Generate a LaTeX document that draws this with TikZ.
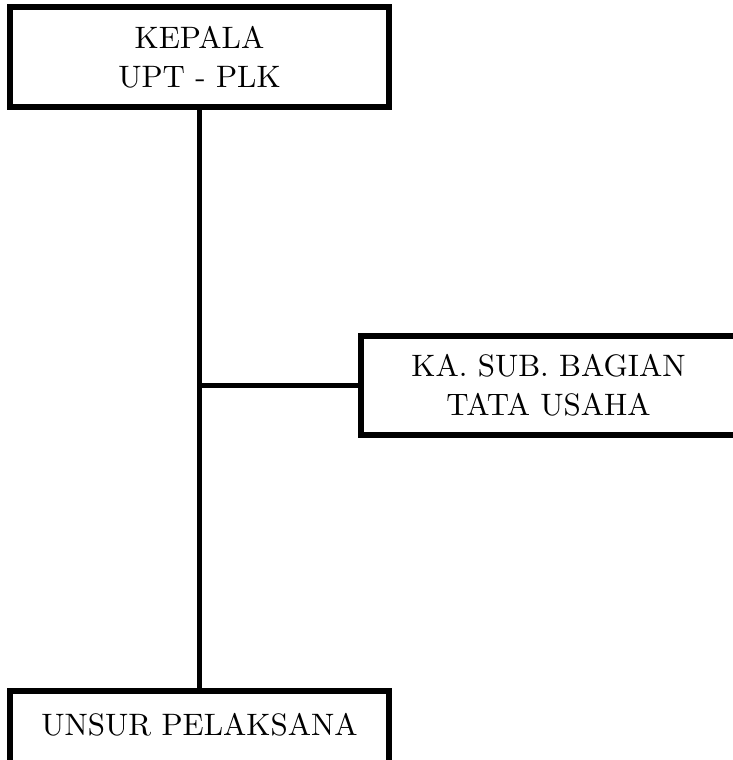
\documentclass[tikz,border=0pt]{standalone}
\usepackage{fontspec}
\setmainfont{lmroman10-regular}[Extension=.otf]
\usepackage{tikz}
\usetikzlibrary{positioning}

\begin{document}
\begin{tikzpicture}[
  x=1pt,y=1pt,
  box/.style={draw,line width=5.5pt,align=center,inner sep=0pt,
              font=\fontsize{31pt}{39pt}\selectfont},
  link/.style={line width=5.5pt}
]
\useasboundingbox (0,0) rectangle (732,-760);
\node[box,minimum width=379pt,minimum height=100pt] (kepala) at (199.5,-57) {KEPALA\\UPT - PLK};
\node[box,minimum width=375pt,minimum height=99pt] (kasub) at (548.5,-385.5) {KA. SUB. BAGIAN\\TATA USAHA};
\node[box,minimum width=379pt,minimum height=76pt,text height=21pt,text depth=9pt] (unsur) at (199.5,-729) {UNSUR PELAKSANA};
\draw[link] (kepala.south) -- (unsur.north);
\draw[link] (kasub.west) -- (kasub.west -| kepala.south);
\end{tikzpicture}
\end{document}
